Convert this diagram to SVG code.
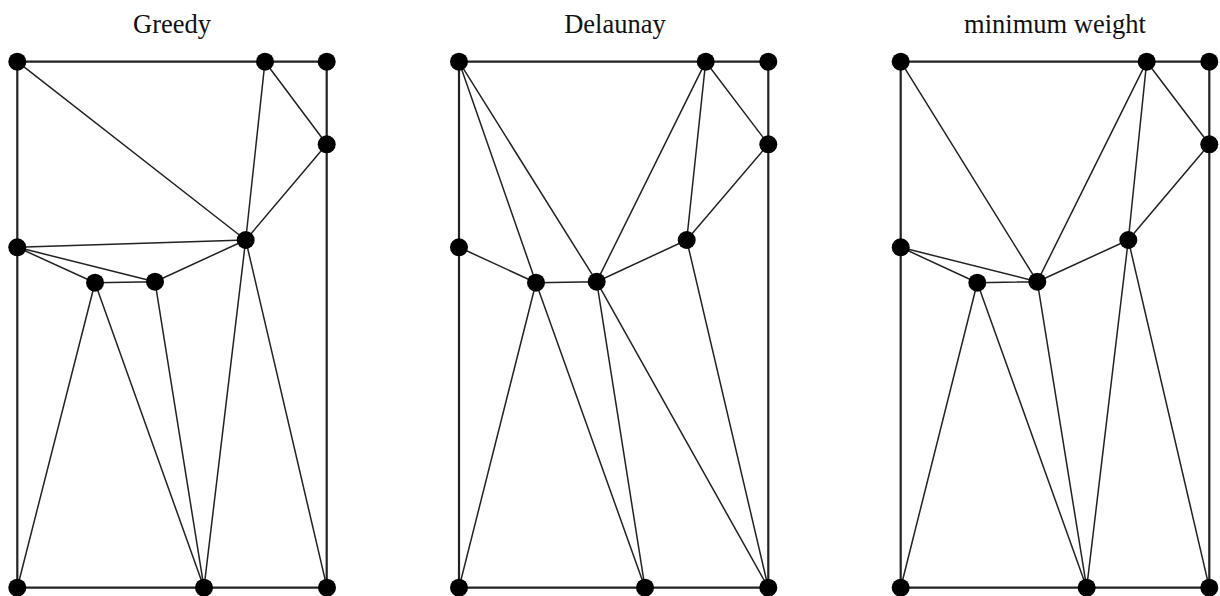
<svg xmlns="http://www.w3.org/2000/svg" width="1220" height="596" viewBox="0 0 1220 596">
<style>
.t{font-family:"Liberation Serif","Times New Roman",serif;font-size:26.5px;fill:#111;text-anchor:middle}
.o{stroke:#222;stroke-width:2.2;fill:none}
.e{stroke:#222;stroke-width:1.5;fill:none}
.n{fill:#000}
</style>
<rect width="1220" height="596" fill="#fff"/>
<text class="t" x="172" y="33">Greedy</text>
<text class="t" x="615" y="33">Delaunay</text>
<text class="t" x="1055" y="33">minimum weight</text>
<g id="connectors">
<g id="greedy-edges">
<path class="o" d="M17.3,61.7H326.7V587.7H17.3Z"/>
<path class="e" d="M17.3,61.7L245.7,240 M265,61.7L245.7,240 M265,61.7L326.7,144.3 M326.7,144.3L245.7,240 M17.3,247.3L245.7,240 M17.3,247.3L95,282.7 M17.3,247.3L155,281.7 M95,282.7L155,281.7 M155,281.7L245.7,240 M95,282.7L17.3,587.7 M95,282.7L204,587.7 M155,281.7L204,587.7 M245.7,240L204,587.7 M245.7,240L327,587.7"/>
</g>
<g id="delaunay-edges">
<path class="o" d="M459,61.7H768.3V587.7H459Z"/>
<path class="e" d="M459,61.7L536,282.7 M459,61.7L596.7,281.7 M705.7,61.7L596.7,281.7 M705.7,61.7L686.7,240 M705.7,61.7L768.3,144.3 M768.3,144.3L686.7,240 M686.7,240L596.7,281.7 M459,247.3L536,282.7 M536,282.7L596.7,281.7 M536,282.7L459,587.7 M536,282.7L645,587.7 M596.7,281.7L645,587.7 M596.7,281.7L768.3,587.7 M686.7,240L768.3,587.7"/>
</g>
<g id="minweight-edges">
<path class="o" d="M900.7,61.7H1209.3V587.7H900.7Z"/>
<path class="e" d="M900.7,61.7L1037.3,281.7 M1146.7,61.7L1037.3,281.7 M1146.7,61.7L1128.3,240 M1146.7,61.7L1209.3,144.3 M1209.3,144.3L1128.3,240 M1128.3,240L1037.3,281.7 M900.7,247.3L977.3,282.7 M900.7,247.3L1037.3,281.7 M977.3,282.7L1037.3,281.7 M977.3,282.7L900.7,587.7 M977.3,282.7L1086.7,587.7 M1037.3,281.7L1086.7,587.7 M1128.3,240L1086.7,587.7 M1128.3,240L1209.3,587.7"/>
</g>
</g>
<g id="greedy-nodes">
<g id="g-a"><circle class="n" cx="17.3" cy="61.7" r="9"/></g>
<g id="g-b"><circle class="n" cx="265" cy="61.7" r="9"/></g>
<g id="g-c"><circle class="n" cx="326.7" cy="61.7" r="9"/></g>
<g id="g-d"><circle class="n" cx="326.7" cy="144.3" r="9"/></g>
<g id="g-e"><circle class="n" cx="245.7" cy="240" r="9"/></g>
<g id="g-f"><circle class="n" cx="17.3" cy="247.3" r="9"/></g>
<g id="g-g"><circle class="n" cx="95" cy="282.7" r="9"/></g>
<g id="g-h"><circle class="n" cx="155" cy="281.7" r="9"/></g>
<g id="g-i"><circle class="n" cx="17.3" cy="587.7" r="9"/></g>
<g id="g-j"><circle class="n" cx="204" cy="587.7" r="9"/></g>
<g id="g-k"><circle class="n" cx="327" cy="587.7" r="9"/></g>
</g>
<g id="delaunay-nodes">
<g id="d-a"><circle class="n" cx="459" cy="61.7" r="9"/></g>
<g id="d-b"><circle class="n" cx="705.7" cy="61.7" r="9"/></g>
<g id="d-c"><circle class="n" cx="768.3" cy="61.7" r="9"/></g>
<g id="d-d"><circle class="n" cx="768.3" cy="144.3" r="9"/></g>
<g id="d-e"><circle class="n" cx="686.7" cy="240" r="9"/></g>
<g id="d-f"><circle class="n" cx="459" cy="247.3" r="9"/></g>
<g id="d-g"><circle class="n" cx="536" cy="282.7" r="9"/></g>
<g id="d-h"><circle class="n" cx="596.7" cy="281.7" r="9"/></g>
<g id="d-i"><circle class="n" cx="459" cy="587.7" r="9"/></g>
<g id="d-j"><circle class="n" cx="645" cy="587.7" r="9"/></g>
<g id="d-k"><circle class="n" cx="768.3" cy="587.7" r="9"/></g>
</g>
<g id="minweight-nodes">
<g id="m-a"><circle class="n" cx="900.7" cy="61.7" r="9"/></g>
<g id="m-b"><circle class="n" cx="1146.7" cy="61.7" r="9"/></g>
<g id="m-c"><circle class="n" cx="1209.3" cy="61.7" r="9"/></g>
<g id="m-d"><circle class="n" cx="1209.3" cy="144.3" r="9"/></g>
<g id="m-e"><circle class="n" cx="1128.3" cy="240" r="9"/></g>
<g id="m-f"><circle class="n" cx="900.7" cy="247.3" r="9"/></g>
<g id="m-g"><circle class="n" cx="977.3" cy="282.7" r="9"/></g>
<g id="m-h"><circle class="n" cx="1037.3" cy="281.7" r="9"/></g>
<g id="m-i"><circle class="n" cx="900.7" cy="587.7" r="9"/></g>
<g id="m-j"><circle class="n" cx="1086.7" cy="587.7" r="9"/></g>
<g id="m-k"><circle class="n" cx="1209.3" cy="587.7" r="9"/></g>
</g>
</svg>
